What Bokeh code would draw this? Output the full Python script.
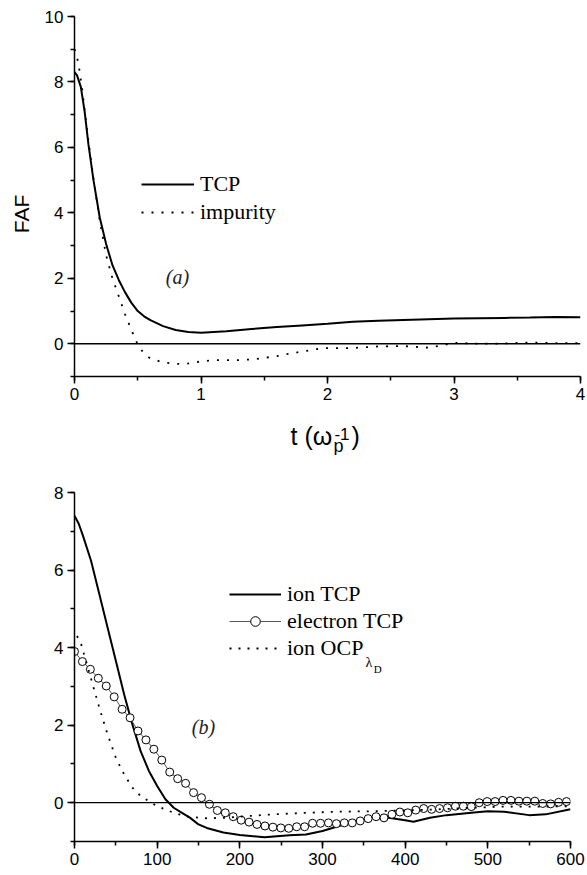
import math
from bokeh.plotting import figure
from bokeh.models import (Range1d, SingleIntervalTicker, Span, Label, Legend,
                          LegendItem)
from bokeh.embed import file_html
from bokeh.resources import INLINE

# ---------------- Panel (a) data ----------------
t_a_tcp = [0, 0.02, 0.05, 0.08, 0.11, 0.15, 0.2, 0.25, 0.3, 0.35, 0.4, 0.45,
           0.5, 0.55, 0.6, 0.7, 0.8, 0.9, 1.0, 1.2, 1.4, 1.6, 1.8, 2.0, 2.2,
           2.4, 2.6, 2.8, 3.0, 3.2, 3.4, 3.6, 3.8, 4.0]
faf_tcp = [8.3, 8.2, 7.85, 7.1, 6.1, 5.0, 3.85, 3.05, 2.4, 1.95, 1.57, 1.25,
           1.0, 0.84, 0.72, 0.54, 0.42, 0.36, 0.34, 0.38, 0.45, 0.51, 0.56,
           0.61, 0.67, 0.70, 0.73, 0.75, 0.77, 0.78, 0.79, 0.80, 0.82, 0.81]

t_a_imp = [0, 0.03, 0.06, 0.1, 0.15, 0.2, 0.25, 0.3, 0.35, 0.4, 0.45, 0.5,
           0.55, 0.6, 0.7, 0.8, 0.85, 0.9, 1.0, 1.1, 1.2, 1.3, 1.4, 1.5, 1.6,
           1.7, 1.8, 1.9, 2.0, 2.2, 2.4, 2.6, 2.8, 2.9, 3.0, 3.2, 3.4, 3.6,
           3.8, 4.0]
faf_imp = [9.0, 8.6, 7.8, 6.5, 5.05, 3.75, 2.7, 2.0, 1.45, 0.9, 0.42, -0.03,
           -0.3, -0.45, -0.57, -0.61, -0.62, -0.6, -0.54, -0.5, -0.5, -0.5,
           -0.48, -0.43, -0.38, -0.3, -0.24, -0.17, -0.13, -0.13, -0.08,
           -0.07, -0.12, -0.05, 0.03, 0.0, 0.01, 0.04, 0.02, 0.02]

# ---------------- Panel (b) data ----------------
t_b_ion = [0, 5, 10, 20, 30, 40, 50, 60, 70, 80, 90, 100, 110, 120, 130, 140,
           150, 160, 180, 200, 230, 260, 280, 300, 320, 340, 360, 380, 400,
           410, 430, 450, 480, 500, 520, 550, 570, 600]
faf_ion_tcp = [7.4, 7.2, 6.9, 6.24, 5.38, 4.52, 3.66, 2.8, 2.02, 1.33, 0.82,
               0.43, 0.09, -0.13, -0.26, -0.39, -0.56, -0.65, -0.77, -0.83,
               -0.89, -0.84, -0.82, -0.73, -0.6, -0.47, -0.39, -0.39, -0.45,
               -0.49, -0.39, -0.32, -0.26, -0.22, -0.23, -0.32, -0.30, -0.17]

t_b_el = [0, 9.6, 19.2, 28.8, 38.4, 48, 57.6, 67.2, 76.8, 86.4, 96, 105.6,
          115.2, 124.8, 134.4, 144, 153.6, 163.2, 172.8, 182.4, 192, 201.6,
          211.2, 220.8, 230.4, 240, 249.6, 259.2, 268.8, 278.4, 288, 297.6,
          307.2, 316.8, 326.4, 336, 345.6, 355.2, 364.8, 374.4, 384, 393.6,
          403.2, 412.8, 422.4, 432, 441.6, 451.2, 460.8, 470.4, 480, 489.6,
          499.2, 508.8, 518.4, 528, 537.6, 547.2, 556.8, 566.4, 576, 585.6,
          595.2]
faf_el = [3.90, 3.64, 3.44, 3.21, 3.01, 2.73, 2.41, 2.19, 1.85, 1.62, 1.38,
          1.10, 0.79, 0.62, 0.50, 0.26, 0.13, -0.04, -0.20, -0.26, -0.36,
          -0.45, -0.50, -0.56, -0.60, -0.63, -0.65, -0.66, -0.62, -0.62,
          -0.53, -0.53, -0.52, -0.54, -0.52, -0.52, -0.47, -0.41, -0.36,
          -0.39, -0.30, -0.24, -0.26, -0.19, -0.15, -0.17, -0.15, -0.13,
          -0.09, -0.09, -0.10, 0.0, 0.03, 0.03, 0.06, 0.06, 0.04, 0.04, 0.04,
          -0.02, -0.03, 0.01, 0.03]

t_b_ocp = [3, 8, 20, 30, 40, 50, 60, 70, 80, 90, 100, 120, 140, 160, 180, 200,
           240, 280, 320, 360, 400, 440, 480, 520, 560, 600]
faf_ion_ocp = [4.3, 4.09, 3.2, 2.45, 1.76, 1.16, 0.73, 0.39, 0.17, 0.04, -0.09,
               -0.26, -0.37, -0.40, -0.39, -0.36, -0.30, -0.26, -0.23, -0.22,
               -0.20, -0.17, -0.13, -0.10, -0.10, -0.09]

legend_a = ["TCP", "impurity"]
legend_b = ["ion TCP", "electron TCP", "ion OCP"]

SANS = "Liberation Sans"
SERIF = "Liberation Serif"
W = 587


def style_axes(p, xint, yint):
    p.outline_line_color = None
    p.grid.visible = False
    p.background_fill_color = "white"
    p.border_fill_color = "white"
    p.xaxis.ticker = SingleIntervalTicker(interval=xint, num_minor_ticks=2)
    p.yaxis.ticker = SingleIntervalTicker(interval=yint, num_minor_ticks=2)
    for ax in (p.xaxis[0], p.yaxis[0]):
        ax.axis_line_width = 1.5
        ax.axis_line_color = "black"
        ax.major_tick_line_width = 1.5
        ax.major_tick_line_color = "black"
        ax.minor_tick_line_width = 1.5
        ax.minor_tick_line_color = "black"
        ax.major_tick_out = 7
        ax.major_tick_in = 0
        ax.minor_tick_out = 4
        ax.minor_tick_in = 0
        ax.major_label_text_font = SANS
        ax.major_label_text_font_size = "17px"
        ax.major_label_text_color = "black"
        ax.major_label_standoff = 4
    p.add_layout(Span(location=0, dimension="width", line_color="black",
                      line_width=1.3))


# ---------------- Figure (a) ----------------
p1 = figure(width=W, height=408, x_range=Range1d(0, 4), y_range=Range1d(-1, 10),
            output_backend="svg", toolbar_location=None,
            min_border_left=74, min_border_right=7, min_border_top=16,
            min_border_bottom=32)
style_axes(p1, 1, 2)
p1.yaxis.axis_label = "FAF" + "\u00a0" * 6
p1.yaxis.axis_label_text_font = SANS
p1.yaxis.axis_label_text_font_style = "normal"
p1.yaxis.axis_label_text_font_size = "21px"
p1.yaxis.axis_label_text_color = "black"
p1.yaxis.axis_label_standoff = 9

r_tcp = p1.line(t_a_tcp, faf_tcp, line_color="black", line_width=2)
r_imp = p1.line(t_a_imp, faf_imp, line_color="black", line_width=1.8,
                line_dash="2 8")

leg1 = Legend(items=[LegendItem(label=legend_a[0], renderers=[r_tcp]),
                     LegendItem(label=legend_a[1], renderers=[r_imp])],
              location=(67, 151), padding=0, margin=0, spacing=2,
              glyph_width=53, glyph_height=24, label_height=24,
              label_standoff=6, border_line_color=None,
              background_fill_alpha=0, label_text_font=SERIF,
              label_text_font_size="22px", label_text_color="black")
p1.add_layout(leg1)

p1.add_layout(Label(x=0.814, y=2.05, text="(a)", text_font=SERIF,
                    text_font_style="italic", text_font_size="20px",
                    text_align="center", text_baseline="middle",
                    text_color="#222222"))

# ---------------- x-axis title strip for (a) ----------------
pt = figure(width=W, height=47, x_range=Range1d(0, 4), y_range=Range1d(0, 47),
            output_backend="svg", toolbar_location=None,
            x_axis_location=None, y_axis_location=None,
            min_border_left=74, min_border_right=7, min_border_top=0,
            min_border_bottom=0)
pt.outline_line_color = None
pt.grid.visible = False
pt.background_fill_color = "white"
pt.border_fill_color = "white"
pt.add_layout(Label(x=1.708, y=20, text="t (ω", text_font=SANS,
                    text_font_size="25px", text_align="left",
                    text_baseline="alphabetic", text_color="black"))
pt.add_layout(Label(x=2.055, y=22, text="-1", text_font=SANS,
                    text_font_size="17px", text_align="left",
                    text_baseline="alphabetic", text_color="black"))
pt.add_layout(Label(x=2.047, y=10, text="p", text_font=SANS,
                    text_font_size="18px", text_align="left",
                    text_baseline="alphabetic", text_color="black"))
pt.add_layout(Label(x=2.19, y=20, text=")", text_font=SANS,
                    text_font_size="25px", text_align="left",
                    text_baseline="alphabetic", text_color="black"))

# ---------------- Figure (b) ----------------
p2 = figure(width=W, height=420, x_range=Range1d(0, 600), y_range=Range1d(-1, 8),
            output_backend="svg", toolbar_location=None,
            min_border_left=74, min_border_right=17, min_border_top=37,
            min_border_bottom=34)
style_axes(p2, 100, 2)

r_ion = p2.line(t_b_ion, faf_ion_tcp, line_color="black", line_width=2)
r_el_line = p2.line(t_b_el, faf_el, line_color="#555555", line_width=1)
r_el_pts = p2.scatter(t_b_el, faf_el, marker="circle", size=8,
                      fill_color="white", line_color="black", line_width=1)
r_ocp = p2.line(t_b_ocp, faf_ion_ocp, line_color="black", line_width=1.8,
                line_dash="2 7")

leg2 = Legend(items=[LegendItem(label=legend_b[0], renderers=[r_ion]),
                     LegendItem(label=legend_b[1], renderers=[r_el_line, r_el_pts]),
                     LegendItem(label=legend_b[2], renderers=[r_ocp])],
              location=(155, 180), padding=0, margin=0, spacing=1,
              glyph_width=52, glyph_height=24, label_height=24,
              label_standoff=6, border_line_color=None,
              background_fill_alpha=0, label_text_font=SERIF,
              label_text_font_size="22px", label_text_color="black")
p2.add_layout(leg2)

p2.add_layout(Label(x=156, y=1.94, text="(b)", text_font=SERIF,
                    text_font_style="italic", text_font_size="20px",
                    text_align="center", text_baseline="middle",
                    text_color="#222222"))
p2.add_layout(Label(x=352, y=3.62, text="λ", text_font=SERIF,
                    text_font_size="14px", text_align="left",
                    text_baseline="alphabetic", text_color="black"))
p2.add_layout(Label(x=362, y=3.45, text="D", text_font=SERIF,
                    text_font_size="11px", text_align="left",
                    text_baseline="alphabetic", text_color="black"))

# three separate roots stacked vertically (keeps each frame's own borders)
open("out.html", "w").write(file_html([p1, pt, p2], INLINE))
